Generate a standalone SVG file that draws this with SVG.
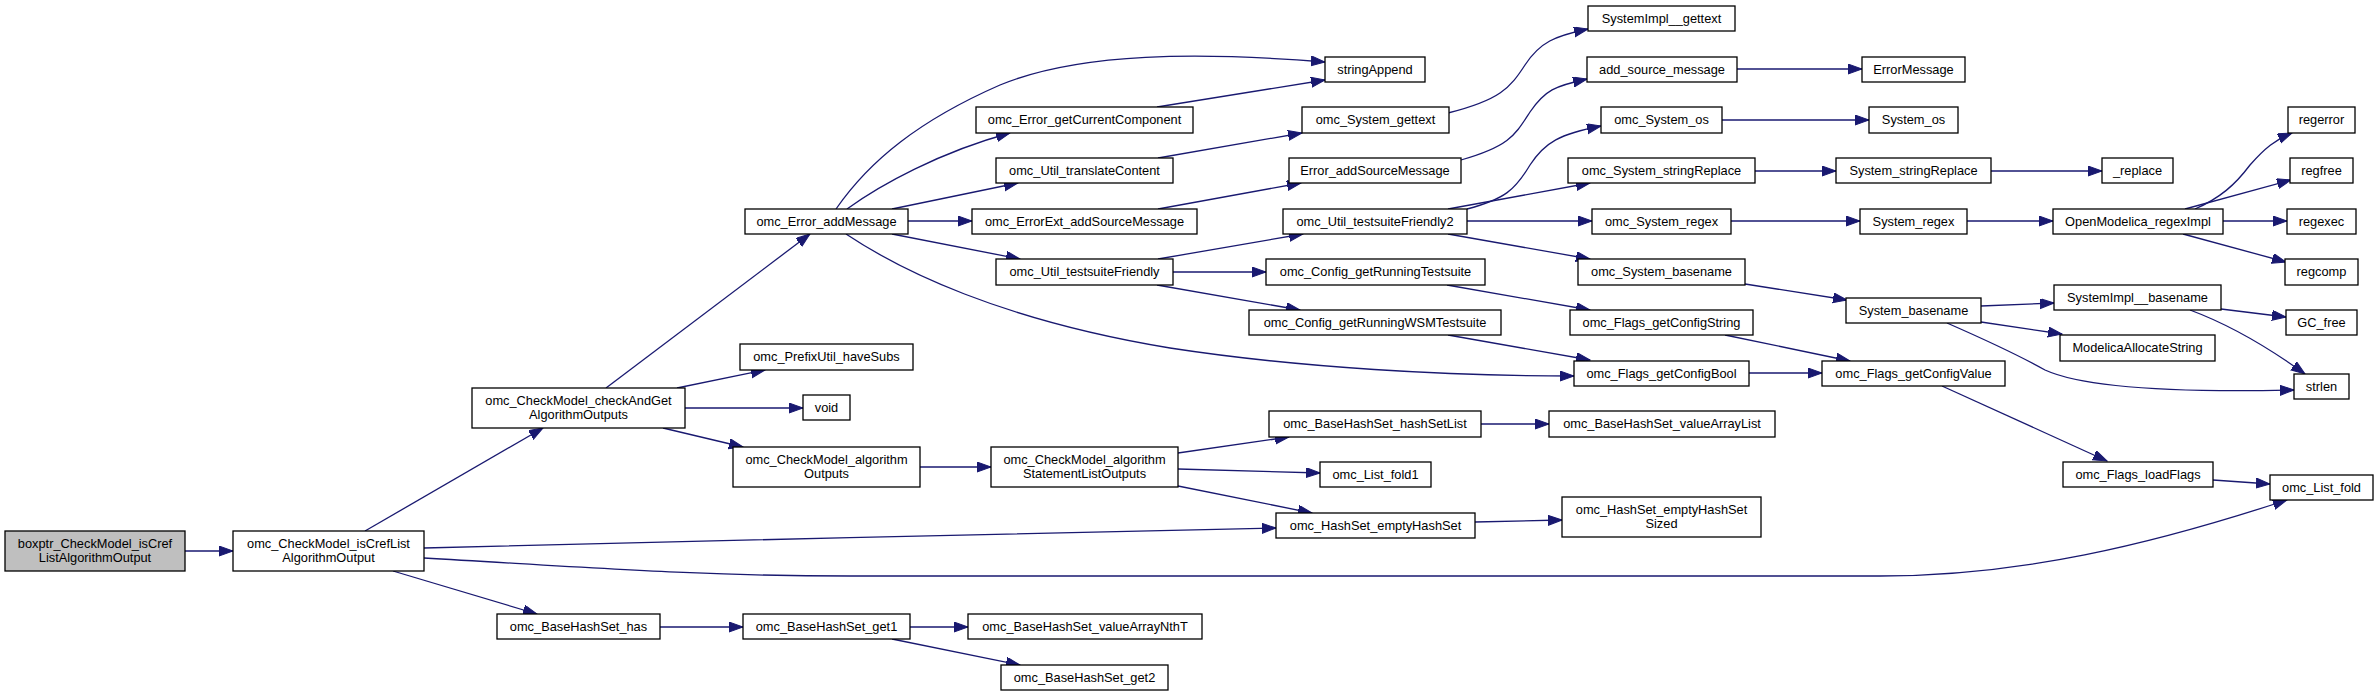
<svg xmlns="http://www.w3.org/2000/svg" width="2379" height="696" viewBox="0 0 2379 696">
<style>
.n rect{fill:#fff;stroke:#000;stroke-width:1.3}
.n.root rect{fill:#bfbfbf}
text{font-family:"Liberation Sans",Arial,Helvetica,sans-serif;font-size:12.8px;text-anchor:middle;fill:#000}
#edges path{fill:none;stroke:#191970;stroke-width:1.3;marker-end:url(#arr)}
</style>
<defs>
<marker id="arr" markerUnits="userSpaceOnUse" markerWidth="15" markerHeight="11" refX="14" refY="5" orient="auto">
<path d="M0,0 L14,5 L0,10 Z" fill="#191970" stroke="#191970" stroke-width="1"/>
</marker>
</defs>
<rect width="2379" height="696" fill="#fff"/>
<g id="edges">
<path d="M185,551 L233,551"/>
<path d="M365,531 L543,428"/>
<path d="M424,548 C700,541 1000,534 1276,528"/>
<path d="M424,558 C600,568 700,576 850,576 L1880,576 C2020,576 2150,545 2287,500"/>
<path d="M393,571 L537,614"/>
<path d="M606,388 L810,234"/>
<path d="M677,388 L765,370"/>
<path d="M685,408 L803,408"/>
<path d="M663,428 L743,447"/>
<path d="M920,467 L991,467"/>
<path d="M1178,453 L1289,437"/>
<path d="M1178,469 L1320,473"/>
<path d="M1178,486 L1312,513"/>
<path d="M1481,424 L1549,424"/>
<path d="M1475,522 L1562,520"/>
<path d="M660,627 L743,627"/>
<path d="M910,627 L968,627"/>
<path d="M892,639 L1020,665"/>
<path d="M836,209 C870,160 920,120 1000,85 C1080,52 1200,52 1325,62"/>
<path d="M847,209 C880,185 940,152 1010,133"/>
<path d="M892,209 L1018,183"/>
<path d="M908,221 L972,221"/>
<path d="M892,234 L1020,259"/>
<path d="M846,234 C900,270 1000,320 1170,348 C1300,368 1450,376 1574,376"/>
<path d="M1157,107 L1325,80"/>
<path d="M1158,158 L1302,133"/>
<path d="M1158,209 L1301,183"/>
<path d="M1158,259 L1303,234"/>
<path d="M1173,272 L1266,272"/>
<path d="M1157,285 L1300,310"/>
<path d="M1448,113 C1500,100 1510,88 1525,65 C1540,42 1555,36 1588,29"/>
<path d="M1461,160 C1510,146 1515,135 1530,112 C1545,90 1555,86 1587,79"/>
<path d="M1737,69 L1862,69"/>
<path d="M1467,209 C1505,199 1515,190 1530,165 C1545,142 1560,134 1601,126"/>
<path d="M1448,209 L1590,183"/>
<path d="M1467,221 L1592,221"/>
<path d="M1448,234 L1590,259"/>
<path d="M1447,285 L1590,310"/>
<path d="M1448,335 L1590,360"/>
<path d="M1725,335 L1850,361"/>
<path d="M1749,373 L1822,373"/>
<path d="M1722,120 L1869,120"/>
<path d="M1755,171 L1836,171"/>
<path d="M1731,221 L1860,221"/>
<path d="M1745,284 L1847,300"/>
<path d="M1991,171 L2102,171"/>
<path d="M1967,221 L2053,221"/>
<path d="M2195,209 C2220,198 2235,185 2250,165 C2265,148 2275,140 2292,133"/>
<path d="M2185,209 L2291,180"/>
<path d="M2223,221 L2287,221"/>
<path d="M2183,234 L2286,262"/>
<path d="M1981,306 L2054,303"/>
<path d="M1981,322 L2062,334"/>
<path d="M1947,323 C1995,344 2020,356 2045,370 C2080,386 2160,393 2294,390"/>
<path d="M2221,309 L2286,317"/>
<path d="M2190,310 C2225,323 2265,345 2305,374"/>
<path d="M1942,386 L2107,461"/>
<path d="M2213,480 L2270,484"/>
</g>
<g id="n1" class="n root"><rect x="5" y="531" width="180" height="40"/><text x="95" y="547.5">boxptr_CheckModel_isCref</text><text x="95" y="561.5">ListAlgorithmOutput</text></g>
<g id="n2" class="n"><rect x="233" y="531" width="191" height="40"/><text x="328.5" y="547.5">omc_CheckModel_isCrefList</text><text x="328.5" y="561.5">AlgorithmOutput</text></g>
<g id="n3" class="n"><rect x="745" y="209" width="163" height="25"/><text x="826.5" y="226">omc_Error_addMessage</text></g>
<g id="n4" class="n"><rect x="472" y="388" width="213" height="40"/><text x="578.5" y="404.5">omc_CheckModel_checkAndGet</text><text x="578.5" y="418.5">AlgorithmOutputs</text></g>
<g id="n5" class="n"><rect x="740" y="344" width="173" height="26"/><text x="826.5" y="361">omc_PrefixUtil_haveSubs</text></g>
<g id="n6" class="n"><rect x="803" y="395" width="47" height="25"/><text x="826.5" y="412">void</text></g>
<g id="n7" class="n"><rect x="733" y="447" width="187" height="40"/><text x="826.5" y="463.5">omc_CheckModel_algorithm</text><text x="826.5" y="477.5">Outputs</text></g>
<g id="n8" class="n"><rect x="497" y="614" width="163" height="25"/><text x="578.5" y="631">omc_BaseHashSet_has</text></g>
<g id="n9" class="n"><rect x="743" y="614" width="167" height="25"/><text x="826.5" y="631">omc_BaseHashSet_get1</text></g>
<g id="n10" class="n"><rect x="1325" y="57" width="100" height="25"/><text x="1375" y="74">stringAppend</text></g>
<g id="n11" class="n"><rect x="976" y="107" width="217" height="26"/><text x="1084.5" y="124">omc_Error_getCurrentComponent</text></g>
<g id="n12" class="n"><rect x="996" y="158" width="177" height="25"/><text x="1084.5" y="175">omc_Util_translateContent</text></g>
<g id="n13" class="n"><rect x="972" y="209" width="225" height="25"/><text x="1084.5" y="226">omc_ErrorExt_addSourceMessage</text></g>
<g id="n14" class="n"><rect x="996" y="259" width="177" height="26"/><text x="1084.5" y="276">omc_Util_testsuiteFriendly</text></g>
<g id="n15" class="n"><rect x="1302" y="107" width="147" height="26"/><text x="1375.5" y="124">omc_System_gettext</text></g>
<g id="n16" class="n"><rect x="1289" y="158" width="172" height="25"/><text x="1375" y="175">Error_addSourceMessage</text></g>
<g id="n17" class="n"><rect x="1283" y="209" width="184" height="25"/><text x="1375" y="226">omc_Util_testsuiteFriendly2</text></g>
<g id="n18" class="n"><rect x="1266" y="259" width="219" height="26"/><text x="1375.5" y="276">omc_Config_getRunningTestsuite</text></g>
<g id="n19" class="n"><rect x="1249" y="310" width="252" height="25"/><text x="1375" y="327">omc_Config_getRunningWSMTestsuite</text></g>
<g id="n20" class="n"><rect x="991" y="447" width="187" height="40"/><text x="1084.5" y="463.5">omc_CheckModel_algorithm</text><text x="1084.5" y="477.5">StatementListOutputs</text></g>
<g id="n21" class="n"><rect x="1269" y="411" width="212" height="26"/><text x="1375" y="428">omc_BaseHashSet_hashSetList</text></g>
<g id="n22" class="n"><rect x="1320" y="462" width="111" height="25"/><text x="1375.5" y="479">omc_List_fold1</text></g>
<g id="n23" class="n"><rect x="1276" y="513" width="199" height="25"/><text x="1375.5" y="530">omc_HashSet_emptyHashSet</text></g>
<g id="n24" class="n"><rect x="968" y="614" width="234" height="25"/><text x="1085" y="631">omc_BaseHashSet_valueArrayNthT</text></g>
<g id="n25" class="n"><rect x="1001" y="665" width="167" height="25"/><text x="1084.5" y="682">omc_BaseHashSet_get2</text></g>
<g id="n26" class="n"><rect x="1588" y="6" width="147" height="25"/><text x="1661.5" y="23">SystemImpl__gettext</text></g>
<g id="n27" class="n"><rect x="1587" y="57" width="150" height="25"/><text x="1662" y="74">add_source_message</text></g>
<g id="n28" class="n"><rect x="1601" y="107" width="121" height="26"/><text x="1661.5" y="124">omc_System_os</text></g>
<g id="n29" class="n"><rect x="1568" y="158" width="187" height="25"/><text x="1661.5" y="175">omc_System_stringReplace</text></g>
<g id="n30" class="n"><rect x="1592" y="209" width="139" height="25"/><text x="1661.5" y="226">omc_System_regex</text></g>
<g id="n31" class="n"><rect x="1578" y="259" width="167" height="26"/><text x="1661.5" y="276">omc_System_basename</text></g>
<g id="n32" class="n"><rect x="1570" y="310" width="183" height="25"/><text x="1661.5" y="327">omc_Flags_getConfigString</text></g>
<g id="n33" class="n"><rect x="1574" y="361" width="175" height="25"/><text x="1661.5" y="378">omc_Flags_getConfigBool</text></g>
<g id="n34" class="n"><rect x="1549" y="411" width="226" height="26"/><text x="1662" y="428">omc_BaseHashSet_valueArrayList</text></g>
<g id="n35" class="n"><rect x="1562" y="497" width="199" height="40"/><text x="1661.5" y="513.5">omc_HashSet_emptyHashSet</text><text x="1661.5" y="527.5">Sized</text></g>
<g id="n36" class="n"><rect x="1862" y="57" width="103" height="25"/><text x="1913.5" y="74">ErrorMessage</text></g>
<g id="n37" class="n"><rect x="1869" y="107" width="89" height="26"/><text x="1913.5" y="124">System_os</text></g>
<g id="n38" class="n"><rect x="1836" y="158" width="155" height="25"/><text x="1913.5" y="175">System_stringReplace</text></g>
<g id="n39" class="n"><rect x="1860" y="209" width="107" height="25"/><text x="1913.5" y="226">System_regex</text></g>
<g id="n40" class="n"><rect x="1846" y="298" width="135" height="25"/><text x="1913.5" y="315">System_basename</text></g>
<g id="n41" class="n"><rect x="1822" y="361" width="183" height="25"/><text x="1913.5" y="378">omc_Flags_getConfigValue</text></g>
<g id="n42" class="n"><rect x="2102" y="158" width="71" height="25"/><text x="2137.5" y="175">_replace</text></g>
<g id="n43" class="n"><rect x="2053" y="209" width="170" height="25"/><text x="2138" y="226">OpenModelica_regexImpl</text></g>
<g id="n44" class="n"><rect x="2054" y="285" width="167" height="25"/><text x="2137.5" y="302">SystemImpl__basename</text></g>
<g id="n45" class="n"><rect x="2060" y="335" width="155" height="26"/><text x="2137.5" y="352">ModelicaAllocateString</text></g>
<g id="n46" class="n"><rect x="2063" y="462" width="150" height="25"/><text x="2138" y="479">omc_Flags_loadFlags</text></g>
<g id="n47" class="n"><rect x="2288" y="107" width="67" height="26"/><text x="2321.5" y="124">regerror</text></g>
<g id="n48" class="n"><rect x="2290" y="158" width="63" height="25"/><text x="2321.5" y="175">regfree</text></g>
<g id="n49" class="n"><rect x="2287" y="209" width="69" height="25"/><text x="2321.5" y="226">regexec</text></g>
<g id="n50" class="n"><rect x="2285" y="259" width="73" height="26"/><text x="2321.5" y="276">regcomp</text></g>
<g id="n51" class="n"><rect x="2286" y="310" width="71" height="25"/><text x="2321.5" y="327">GC_free</text></g>
<g id="n52" class="n"><rect x="2294" y="374" width="55" height="25"/><text x="2321.5" y="391">strlen</text></g>
<g id="n53" class="n"><rect x="2270" y="475" width="103" height="25"/><text x="2321.5" y="492">omc_List_fold</text></g>
</svg>
